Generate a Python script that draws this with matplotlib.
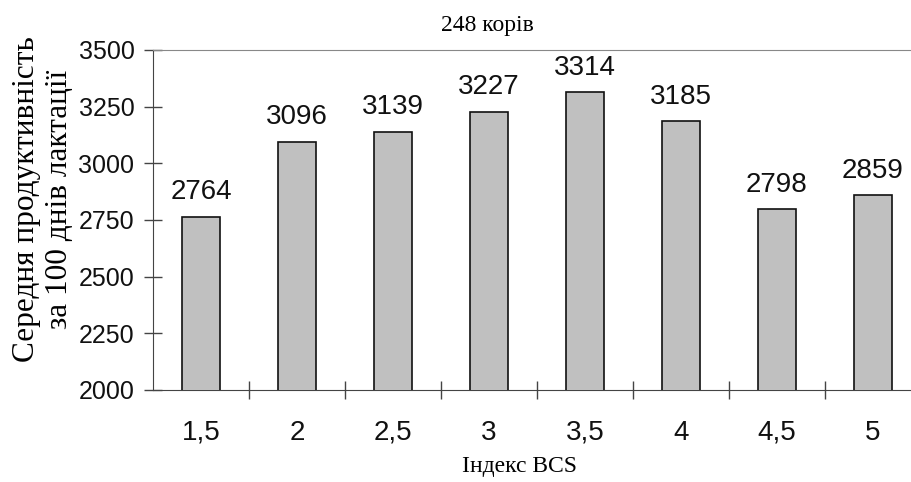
import matplotlib.pyplot as plt
import numpy as np

categories = ['1,5', '2', '2,5', '3', '3,5', '4', '4,5', '5']
values = [2764, 3096, 3139, 3227, 3314, 3185, 2798, 2859]
y_ticks = [2000, 2250, 2500, 2750, 3000, 3250, 3500]

serif = ['Liberation Serif', 'DejaVu Serif']
sans = ['Liberation Sans', 'DejaVu Sans']

fig = plt.figure(figsize=(9.12, 4.82), dpi=100)
ax = fig.add_axes([0.168, 0.191, 0.8415, 0.7054])

x = np.arange(len(categories))
ax.bar(x, values, width=0.4, color='#c0c0c0', edgecolor='#111111', linewidth=1.2, zorder=3)
for xi, v in zip(x, values):
    ax.annotate(str(v), (xi, v), xytext=(0, 12.5), textcoords='offset points',
                ha='center', va='baseline', fontsize=20, family=sans, color='#111111')

ax.set_xlim(-0.5, len(categories) - 0.5)
ax.set_ylim(2000, 3500)
ax.set_yticks(y_ticks)
ax.set_yticklabels([str(t) for t in y_ticks], family=sans, fontsize=18)
ax.set_xticks(x)
ax.set_xticklabels(categories, family=sans, fontsize=20, va='baseline')
ax.set_xticks(x[:-1] + 0.5, minor=True)

ax.tick_params(axis='x', which='major', length=0, pad=36, colors='#111111')
ax.tick_params(axis='x', which='minor', direction='inout', length=13, width=1, color='#444444')
ax.tick_params(axis='y', direction='inout', length=13, width=1, color='#444444', pad=7, labelcolor='#111111')

ax.spines['right'].set_visible(False)
ax.spines['top'].set_color('#888888')
ax.spines['left'].set_color('#444444')
ax.spines['bottom'].set_color('#444444')

fig.text(0.534, 0.947, '248 корів', ha='center', va='center', fontsize=17, family=serif)
fig.text(0.047, 0.587, 'Середня продуктивність\nза 100 днів лактації', rotation=90,
         ha='center', va='center', multialignment='center', fontsize=22.5, family=serif,
         linespacing=1.15)
fig.text(0.57, 0.033, 'Індекс BCS', ha='center', va='center', fontsize=17, family=serif)

fig.savefig('out.png', dpi=100)
